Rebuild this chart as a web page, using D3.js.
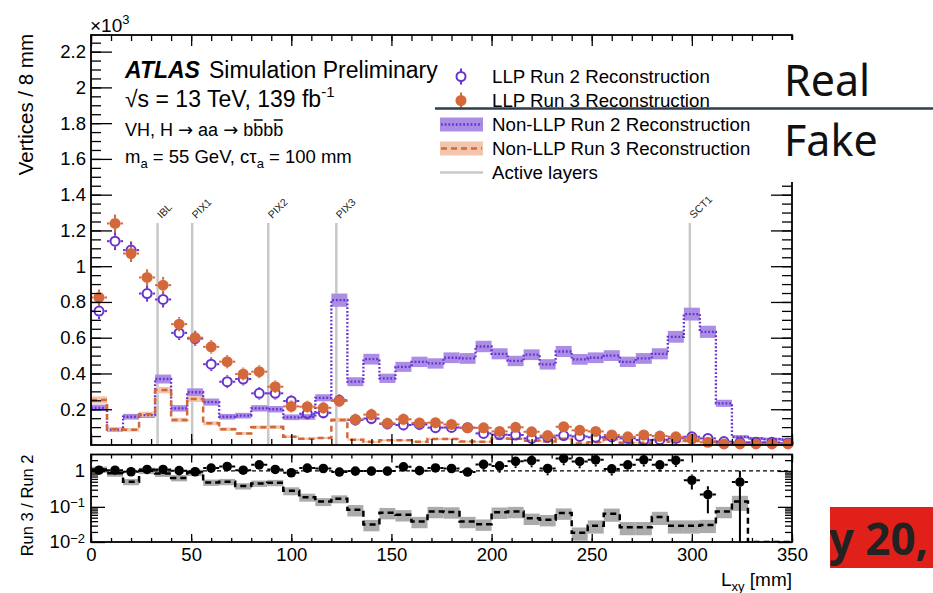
<!DOCTYPE html>
<html>
<head>
<meta charset="utf-8">
<script src="https://cdn.jsdelivr.net/npm/d3@7.9.0/dist/d3.min.js"></script>
<style>
	html, body { margin: 0; padding: 0; background: #fff; }
	svg { display: block; font-family: 'Liberation Sans', Arial, sans-serif; }
</style>
</head>
<body>
<svg id="chart" width="933" height="593"></svg>
<script>
// 44 bins of 8 mm in Lxy, values in units of 10^3 vertices
const binEdges = d3.range(0, 353, 8);

const llpRun2 = [0.749, 1.14, 1.09, 0.847, 0.814, 0.627, 0.595, 0.452, 0.354, 0.369, 0.289, 0.289,
	0.246, 0.175, 0.18, 0.25, 0.14, 0.148, 0.118, 0.112, 0.115, 0.097, 0.098, 0.097, 0.065, 0.058,
	0.056, 0.037, 0.043, 0.053, 0.048, 0.043, 0.045, 0.037, 0.028, 0.03, 0.037, 0.046, 0.037, 0.019,
	0.015, 0.015, 0.015, 0.01];
const llpRun2Err = [0.045, 0.05, 0.048, 0.045, 0.045, 0.04, 0.04, 0.038, 0.036, 0.036, 0.035, 0.035,
	0.034, 0.033, 0.033, 0.034, 0.032, 0.032, 0.032, 0.032, 0.032, 0.031, 0.031, 0.031, 0.03, 0.03,
	0.03, 0.03, 0.03, 0.03, 0.03, 0.03, 0.03, 0.03, 0.03, 0.03, 0.03, 0.03, 0.03, 0.02,
	0.02, 0.02, 0.02, 0.02];

const llpRun3 = [0.825, 1.239, 1.071, 0.937, 0.894, 0.676, 0.6, 0.549, 0.466, 0.397, 0.41, 0.326,
	0.216, 0.214, 0.208, 0.246, 0.143, 0.17, 0.121, 0.144, 0.123, 0.125, 0.115, 0.096, 0.096, 0.076,
	0.099, 0.074, 0.053, 0.102, 0.082, 0.076, 0.056, 0.046, 0.056, 0.05, 0.046, 0.033, 0.015, 0.006,
	0.006, 0.006, 0.006, 0.006];
const llpRun3Err = [0.045, 0.05, 0.048, 0.046, 0.046, 0.04, 0.04, 0.038, 0.037, 0.036, 0.036, 0.035,
	0.034, 0.034, 0.034, 0.034, 0.033, 0.033, 0.032, 0.033, 0.032, 0.032, 0.032, 0.031, 0.031, 0.031,
	0.031, 0.031, 0.03, 0.031, 0.03, 0.03, 0.03, 0.03, 0.03, 0.03, 0.03, 0.028, 0.02, 0.015,
	0.015, 0.015, 0.015, 0.015];

const nonLlpRun2 = [0.208, 0.086, 0.158, 0.167, 0.369, 0.205, 0.295, 0.24, 0.158, 0.164, 0.205, 0.2,
	0.155, 0.157, 0.264, 0.81, 0.354, 0.48, 0.373, 0.437, 0.465, 0.456, 0.488, 0.484, 0.551, 0.51,
	0.47, 0.505, 0.451, 0.523, 0.479, 0.488, 0.5, 0.465, 0.484, 0.51, 0.605, 0.732, 0.633, 0.233,
	0.046, 0.037, 0.033, 0.03];
const nonLlpRun2Err = [0.018, 0.012, 0.016, 0.016, 0.025, 0.018, 0.022, 0.02, 0.016, 0.016, 0.018, 0.018,
	0.016, 0.016, 0.02, 0.037, 0.025, 0.03, 0.026, 0.028, 0.029, 0.029, 0.03, 0.03, 0.032, 0.031,
	0.029, 0.03, 0.029, 0.031, 0.03, 0.03, 0.03, 0.029, 0.03, 0.031, 0.033, 0.036, 0.034, 0.02,
	0.009, 0.008, 0.008, 0.007];

const nonLlpRun3 = [0.252, 0.088, 0.085, 0.172, 0.307, 0.14, 0.257, 0.121, 0.088, 0.065, 0.099, 0.1,
	0.046, 0.035, 0.039, 0.14, 0.03, 0.018, 0.026, 0.026, 0.018, 0.034, 0.034, 0.019, 0.018, 0.036,
	0.035, 0.024, 0.02, 0.035, 0.009, 0.015, 0.032, 0.013, 0.013, 0.027, 0.018, 0.022, 0.02, 0.017,
	0.006, 0, 0, 0];
const nonLlpRun3Err = [0.02, 0.01, 0.01, 0.014, 0.018, 0.012, 0.016, 0.011, 0.01, 0.008, 0.01, 0.01,
	0.007, 0.006, 0.006, 0.012, 0.006, 0.005, 0.005, 0.005, 0.005, 0.006, 0.006, 0.005, 0.005, 0.006,
	0.006, 0.005, 0.005, 0.006, 0.004, 0.004, 0.006, 0.004, 0.004, 0.005, 0.005, 0.005, 0.005, 0.005,
	0.003, 0, 0, 0];

// Run 3 / Run 2 ratios (null = no entry)
const ratioLlp = [1.05, 1.05, 0.95, 1.1, 1.1, 1.02, 0.95, 1.2, 1.33, 1.05, 1.48, 1.1,
	0.89, 1.2, 1.17, 0.93, 0.99, 0.99, 0.99, 1.3, 1.02, 1.21, 1.17, 0.93, 1.52, 1.38,
	1.85, 1.94, 1.17, 2.22, 1.84, 2.04, 1.14, 1.48, 2.04, 1.48, 1.97, 0.55, 0.22, null,
	0.49, null, null, null];
const ratioLlpErr = [0.1, 0.1, 0.1, 0.1, 0.1, 0.1, 0.1, 0.1, 0.1, 0.1, 0.1, 0.1,
	0.2, 0.2, 0.2, 0.2, 0.2, 0.2, 0.2, 0.2, 0.2, 0.2, 0.2, 0.2, 0.35, 0.35,
	0.35, 0.35, 0.35, 0.35, 0.35, 0.35, 0.35, 0.35, 0.35, 0.35, 0.35, 0.45, 0.7, 0,
	1.05, 0, 0, 0];

const ratioNonLlp = [1.1, 0.86, 0.5, 1.02, 0.85, 0.64, 0.9, 0.48, 0.5, 0.38, 0.45, 0.47,
	0.28, 0.186, 0.14, 0.167, 0.083, 0.032, 0.069, 0.06, 0.039, 0.074, 0.072, 0.039, 0.033, 0.071,
	0.074, 0.048, 0.044, 0.067, 0.019, 0.03, 0.064, 0.027, 0.027, 0.052, 0.03, 0.03, 0.031, 0.074,
	0.14, 0, 0, 0];
const ratioNonLlpErr = [0.2, 0.2, 0.2, 0.2, 0.2, 0.2, 0.2, 0.2, 0.2, 0.2, 0.2, 0.2,
	0.25, 0.25, 0.25, 0.25, 0.35, 0.35, 0.35, 0.35, 0.35, 0.35, 0.35, 0.35, 0.35, 0.35,
	0.35, 0.35, 0.35, 0.35, 0.4, 0.4, 0.4, 0.4, 0.4, 0.4, 0.4, 0.4, 0.4, 0.35,
	0.45, 0, 0, 0];

// detector layers (mm)
const layerNames = ['IBL', 'PIX1', 'PIX2', 'PIX3', 'SCT1'];
const layerPos = [33.25, 50.5, 88.5, 122.5, 299];

const mainYTicks = [0.2, 0.4, 0.6, 0.8, 1, 1.2, 1.4, 1.6, 1.8, 2, 2.2];
const xTicks = [0, 50, 100, 150, 200, 250, 300, 350];
const ratioYTicks = [0.01, 0.1, 1];

const legendLabels = ['LLP Run 2 Reconstruction', 'LLP Run 3 Reconstruction',
	'Non-LLP Run 2 Reconstruction', 'Non-LLP Run 3 Reconstruction', 'Active layers'];

const purple = '#6633cc';
const purpleFill = '#ab8de6';
const orange = '#d4683a';
const orangeFill = '#f2c6ad';

const svg = d3.select('#chart');
const frame = { left: 91, right: 792, top: 35, bottom: 445 };
const rFrame = { top: 454.5, bottom: 542 };

const x = d3.scaleLinear().domain([0, 350]).range([frame.left, frame.right]);
const y = d3.scaleLinear().domain([0, 2.293]).range([frame.bottom, frame.top]);
const yr = d3.scaleLog().domain([0.0105, 2.87]).range([rFrame.bottom, rFrame.top]).clamp(true);
const yrSafe = (v) => yr(Math.max(v, 1e-4));

const defs = svg.append('defs');
function addClip(id, x0, y0, w, h) {
	defs.append('clipPath').attr('id', id).append('rect')
		.attr('x', x0).attr('y', y0).attr('width', w).attr('height', h);
}
addClip('clip-main', frame.left, frame.top, frame.right - frame.left, frame.bottom - frame.top);
addClip('clip-ratio', frame.left, rFrame.top, frame.right - frame.left, rFrame.bottom - rFrame.top);
addClip('clip-red', 830, 507, 103, 61);

function stepPoints(values) {
	const pts = values.map((v, i) => [binEdges[i], v]);
	pts.push([binEdges[values.length], values[values.length - 1]]);
	return pts;
}

function drawBand(g, values, errs, yScale, fill) {
	g.append('g')
		.selectAll('rect')
		.data(values)
		.join('rect')
		.attr('x', (d, i) => x(binEdges[i]))
		.attr('width', (d, i) => x(binEdges[i + 1]) - x(binEdges[i]))
		.attr('y', (d, i) => yScale(d + errs[i]))
		.attr('height', (d, i) => Math.max(0, yScale(d - errs[i]) - yScale(d + errs[i])))
		.attr('fill', fill);
}

function drawStep(g, values, yScale, color, dash, width) {
	const line = d3.line()
		.x((d) => x(d[0]))
		.y((d) => yScale(d[1]))
		.curve(d3.curveStepAfter);
	g.append('path')
		.attr('d', line(stepPoints(values)))
		.attr('fill', 'none')
		.attr('stroke', color)
		.attr('stroke-width', width)
		.attr('stroke-dasharray', dash);
}

// points with bin-width x bars and y error bars, bars stop at the marker edge
function drawPoints(gBars, gMarks, values, lo, hi, yScale, r, color, filled) {
	values.forEach((v, i) => {
		if (v === null) return;
		const cx = x(binEdges[i] + 4);
		const cy = yScale(v);
		const segs = [
			[x(binEdges[i]), cy, cx - r, cy],
			[cx + r, cy, x(binEdges[i + 1]), cy],
		];
		const yTop = yScale(hi[i]);
		const yBot = lo[i] > 0 ? yScale(lo[i]) : yScale.range()[0] + 5;
		if (cy - yTop > r) segs.push([cx, yTop, cx, cy - r]);
		if (yBot - cy > r) segs.push([cx, cy + r, cx, yBot]);
		segs.forEach((s) => {
			gBars.append('line')
				.attr('x1', s[0]).attr('y1', s[1]).attr('x2', s[2]).attr('y2', s[3])
				.attr('stroke', color).attr('stroke-width', 2);
		});
		gMarks.append('circle')
			.attr('cx', cx).attr('cy', cy).attr('r', filled ? r : r - 1)
			.attr('fill', filled ? color : 'none')
			.attr('stroke', color)
			.attr('stroke-width', filled ? 0 : 2);
	});
}

// ---------- main panel ----------
const gMain = svg.append('g');

layerPos.forEach((p, i) => {
	gMain.append('line')
		.attr('x1', x(p)).attr('x2', x(p))
		.attr('y1', 223).attr('y2', frame.bottom)
		.attr('stroke', '#c8c8c8').attr('stroke-width', 2.5);
	gMain.append('text')
		.attr('transform', `translate(${x(p) + 4},219) rotate(-45)`)
		.attr('font-size', 10.5)
		.attr('fill', '#222')
		.text(layerNames[i]);
});

const gHist = gMain.append('g').attr('clip-path', 'url(#clip-main)');
drawBand(gHist, nonLlpRun2, nonLlpRun2Err, y, purpleFill);
drawBand(gHist, nonLlpRun3, nonLlpRun3Err, y, orangeFill);
drawStep(gHist, nonLlpRun2, y, purple, '1.8,1.9', 2.3);
drawStep(gHist, nonLlpRun3, y, orange, '6,4', 2.5);

const gBars = gMain.append('g').attr('clip-path', 'url(#clip-main)');
const gMarks = gMain.append('g');
drawPoints(gBars, gMarks, llpRun2, llpRun2.map((v, i) => v - llpRun2Err[i]),
	llpRun2.map((v, i) => v + llpRun2Err[i]), y, 5.5, purple, false);
drawPoints(gBars, gMarks, llpRun3, llpRun3.map((v, i) => v - llpRun3Err[i]),
	llpRun3.map((v, i) => v + llpRun3Err[i]), y, 5.5, orange, true);

// ---------- ratio panel ----------
const gRatio = svg.append('g');
const gRHist = gRatio.append('g').attr('clip-path', 'url(#clip-ratio)');
gRHist.append('g')
	.selectAll('rect')
	.data(ratioNonLlp)
	.join('rect')
	.attr('x', (d, i) => x(binEdges[i]))
	.attr('width', (d, i) => x(binEdges[i + 1]) - x(binEdges[i]))
	.attr('y', (d, i) => yrSafe(d * (1 + ratioNonLlpErr[i])))
	.attr('height', (d, i) => yrSafe(d * (1 - ratioNonLlpErr[i])) - yrSafe(d * (1 + ratioNonLlpErr[i])))
	.attr('fill', '#ababab');
gRHist.append('line')
	.attr('x1', frame.left).attr('x2', frame.right)
	.attr('y1', yr(1)).attr('y2', yr(1))
	.attr('stroke', '#000').attr('stroke-width', 1.2).attr('stroke-dasharray', '4,3');
drawStep(gRHist, ratioNonLlp.map((v) => Math.max(v, 1e-4)), yr, '#000', '6,4', 2.5);

const gRBars = gRatio.append('g').attr('clip-path', 'url(#clip-ratio)');
const gRMarks = gRatio.append('g');
drawPoints(gRBars, gRMarks, ratioLlp,
	ratioLlp.map((v, i) => (v === null ? 0 : v * (1 - ratioLlpErr[i]))),
	ratioLlp.map((v, i) => (v === null ? 0 : v * (1 + ratioLlpErr[i]))),
	yr, 4.8, '#000', true);

// ---------- axes ----------
function styleAxis(g) {
	g.select('.domain').remove();
	g.selectAll('.tick line').attr('stroke', '#000').attr('stroke-width', 1.3);
	g.attr('font-family', null).attr('font-size', 18.5);
	g.selectAll('.tick text').attr('fill', '#000');
}

const mainMinorY = d3.range(1, 46).map((k) => k * 0.05);
const minorX = d3.range(0, 36).map((k) => k * 10);

// main panel frame ticks
svg.append('g').attr('transform', `translate(${frame.left},0)`)
	.call(d3.axisLeft(y).tickValues(mainMinorY).tickSize(-10).tickFormat('')).call(styleAxis);
svg.append('g').attr('transform', `translate(${frame.left},0)`)
	.call(d3.axisLeft(y).tickValues(mainYTicks).tickSize(-21).tickPadding(5).tickFormat(d3.format('~g')))
	.call(styleAxis);
svg.append('g').attr('transform', `translate(${frame.right},0)`)
	.call(d3.axisRight(y).tickValues(mainMinorY).tickSize(-10).tickFormat('')).call(styleAxis);
svg.append('g').attr('transform', `translate(${frame.right},0)`)
	.call(d3.axisRight(y).tickValues(mainYTicks).tickSize(-21).tickFormat('')).call(styleAxis);
[frame.top, frame.bottom].forEach((yy) => {
	const axis = yy === frame.top ? d3.axisTop : d3.axisBottom;
	svg.append('g').attr('transform', `translate(0,${yy})`)
		.call(axis(x).tickValues(minorX).tickSize(-6).tickFormat('')).call(styleAxis);
	svg.append('g').attr('transform', `translate(0,${yy})`)
		.call(axis(x).tickValues(xTicks).tickSize(-11).tickFormat('')).call(styleAxis);
});

// ratio panel ticks
const ratioMinor = [0.02, 0.03, 0.04, 0.05, 0.06, 0.07, 0.08, 0.09, 0.2, 0.3, 0.4, 0.5, 0.6, 0.7, 0.8, 0.9, 2];
[frame.left, frame.right].forEach((xx) => {
	const axis = xx === frame.left ? d3.axisLeft : d3.axisRight;
	svg.append('g').attr('transform', `translate(${xx},0)`)
		.call(axis(yr).tickValues(ratioMinor).tickSize(-7).tickFormat('')).call(styleAxis);
	const g = svg.append('g').attr('transform', `translate(${xx},0)`)
		.call(axis(yr).tickValues(ratioYTicks).tickSize(-14).tickPadding(6)
			.tickFormat(xx === frame.left ? (d) => d : ''))
		.call(styleAxis);
	if (xx === frame.left) {
		g.selectAll('.tick text').each(function (d) {
			const t = d3.select(this).text('');
			if (d === 1) {
				t.text('1');
			} else {
				t.append('tspan').text('10');
				t.append('tspan').attr('dy', '-0.45em').attr('font-size', 13)
					.text(`\u2212${Math.round(-Math.log10(d))}`);
			}
		});
	}
});
svg.append('g').attr('transform', `translate(0,${rFrame.top})`)
	.call(d3.axisTop(x).tickValues(minorX).tickSize(-4).tickFormat('')).call(styleAxis);
svg.append('g').attr('transform', `translate(0,${rFrame.top})`)
	.call(d3.axisTop(x).tickValues(xTicks).tickSize(-8).tickFormat('')).call(styleAxis);
svg.append('g').attr('transform', `translate(0,${rFrame.bottom})`)
	.call(d3.axisBottom(x).tickValues(minorX).tickSize(-4).tickFormat('')).call(styleAxis);
svg.append('g').attr('transform', `translate(0,${rFrame.bottom})`)
	.call(d3.axisBottom(x).tickValues(xTicks).tickSize(-8).tickPadding(6)).call(styleAxis);

// frames
svg.append('rect')
	.attr('x', frame.left).attr('y', frame.top)
	.attr('width', frame.right - frame.left).attr('height', frame.bottom - frame.top)
	.attr('fill', 'none').attr('stroke', '#000').attr('stroke-width', 1.8);
svg.append('rect')
	.attr('x', frame.left).attr('y', rFrame.top)
	.attr('width', frame.right - frame.left).attr('height', rFrame.bottom - rFrame.top)
	.attr('fill', 'none').attr('stroke', '#000').attr('stroke-width', 1.8);

// ---------- titles ----------
const x103 = svg.append('text').attr('x', 90).attr('y', 32).attr('font-size', 19);
x103.append('tspan').text('\u00d710');
x103.append('tspan').attr('dy', -8).attr('font-size', 13).text('3');

svg.append('text')
	.attr('transform', 'translate(33,34) rotate(-90)')
	.attr('text-anchor', 'end')
	.attr('font-size', 20.5)
	.text('Vertices / 8 mm');
svg.append('text')
	.attr('transform', `translate(33,${rFrame.top}) rotate(-90)`)
	.attr('text-anchor', 'end')
	.attr('font-size', 16.5)
	.text('Run 3 / Run 2');

const xTitle = svg.append('text')
	.attr('x', frame.right).attr('y', 586)
	.attr('text-anchor', 'end')
	.attr('font-size', 19);
xTitle.append('tspan').text('L');
xTitle.append('tspan').attr('dy', 5).attr('font-size', 13).text('xy');
xTitle.append('tspan').attr('dy', -5).text(' [mm]');

// ATLAS label block
const atlas = svg.append('text').attr('x', 125).attr('y', 78).attr('font-size', 23);
atlas.append('tspan').attr('font-weight', 'bold').attr('font-style', 'italic').text('ATLAS');
atlas.append('tspan').attr('dx', 9).text('Simulation Preliminary');

const energy = svg.append('text').attr('x', 125).attr('y', 107).attr('font-size', 23);
energy.append('tspan').text('\u221as = 13 TeV, 139 fb');
energy.append('tspan').attr('dy', -10).attr('font-size', 15).text('-1');

const proc = svg.append('text').attr('x', 125).attr('y', 136).attr('font-size', 18);
proc.append('tspan').text('VH, H ');
proc.append('tspan').attr('font-family', 'DejaVu Sans').text('\u2192');
proc.append('tspan').text(' aa ');
proc.append('tspan').attr('font-family', 'DejaVu Sans').text('\u2192');
proc.append('tspan').text(' bbbb');
// overlines on the anti-b quarks (characters 14 and 16)
[14, 16].forEach((ci) => {
	const node = proc.node();
	const a = node.getStartPositionOfChar(ci).x;
	const b = node.getEndPositionOfChar(ci).x;
	svg.append('line')
		.attr('x1', a + 0.5).attr('x2', b - 0.5)
		.attr('y1', 120).attr('y2', 120)
		.attr('stroke', '#000').attr('stroke-width', 1.5);
});

const mass = svg.append('text').attr('x', 125).attr('y', 163).attr('font-size', 18.5);
mass.append('tspan').text('m');
mass.append('tspan').attr('dy', 5).attr('font-size', 13).text('a');
mass.append('tspan').attr('dy', -5).text(' = 55 GeV, c\u03c4');
mass.append('tspan').attr('dy', 5).attr('font-size', 13).text('a');
mass.append('tspan').attr('dy', -5).text(' = 100 mm');

// legend
const legendY = [76.5, 100.5, 124.5, 148.5, 172.5];
const gLeg = svg.append('g');
legendLabels.forEach((label, i) => {
	gLeg.append('text')
		.attr('x', 492).attr('y', legendY[i] + 6.5)
		.attr('font-size', 18.7)
		.text(label);
});
// open / filled markers with small error ticks
[[purple, false], [orange, true]].forEach(([c, filled], i) => {
	const cy = legendY[i];
	gLeg.append('line').attr('x1', 461).attr('x2', 461).attr('y1', cy - 8).attr('y2', cy + 8)
		.attr('stroke', c).attr('stroke-width', 2);
	gLeg.append('circle').attr('cx', 461).attr('cy', cy).attr('r', filled ? 5.5 : 4.5)
		.attr('fill', filled ? c : '#fff').attr('stroke', c).attr('stroke-width', filled ? 0 : 2);
});
[[purpleFill, purple, '1.8,1.9', 2.3], [orangeFill, orange, '6,4', 2.5]].forEach(([f, c, dash, w], k) => {
	const cy = legendY[2 + k];
	gLeg.append('rect').attr('x', 440).attr('y', cy - 7).attr('width', 43).attr('height', 14).attr('fill', f);
	gLeg.append('line').attr('x1', 441).attr('x2', 482).attr('y1', cy).attr('y2', cy)
		.attr('stroke', c).attr('stroke-width', w).attr('stroke-dasharray', dash);
});
gLeg.append('line').attr('x1', 440).attr('x2', 483).attr('y1', legendY[4]).attr('y2', legendY[4])
	.attr('stroke', '#c8c8c8').attr('stroke-width', 2.5);

// ---------- slide overlay ----------
svg.append('rect').attr('x', 764).attr('y', 40).attr('width', 169).attr('height', 142).attr('fill', '#fff');
svg.append('line')
	.attr('x1', 435).attr('x2', 933).attr('y1', 108.5).attr('y2', 108.5)
	.attr('stroke', '#2c3e50').attr('stroke-width', 2.5);
svg.append('text').attr('x', 784).attr('y', 96)
	.attr('font-family', 'Noto Sans').attr('font-size', 43).attr('fill', '#111')
	.text('Real');
svg.append('text').attr('x', 784).attr('y', 156)
	.attr('font-family', 'Noto Sans').attr('font-size', 43).attr('fill', '#111')
	.text('Fake');
svg.append('rect').attr('x', 830).attr('y', 507).attr('width', 103).attr('height', 61)
	.attr('fill', '#e2201a');
svg.append('text').attr('x', 809).attr('y', 555)
	.attr('clip-path', 'url(#clip-red)')
	.attr('font-family', 'Noto Sans').attr('font-weight', 'bold').attr('font-size', 44).attr('fill', '#222')
	.text('ry 20,');
</script>
</body>
</html>
